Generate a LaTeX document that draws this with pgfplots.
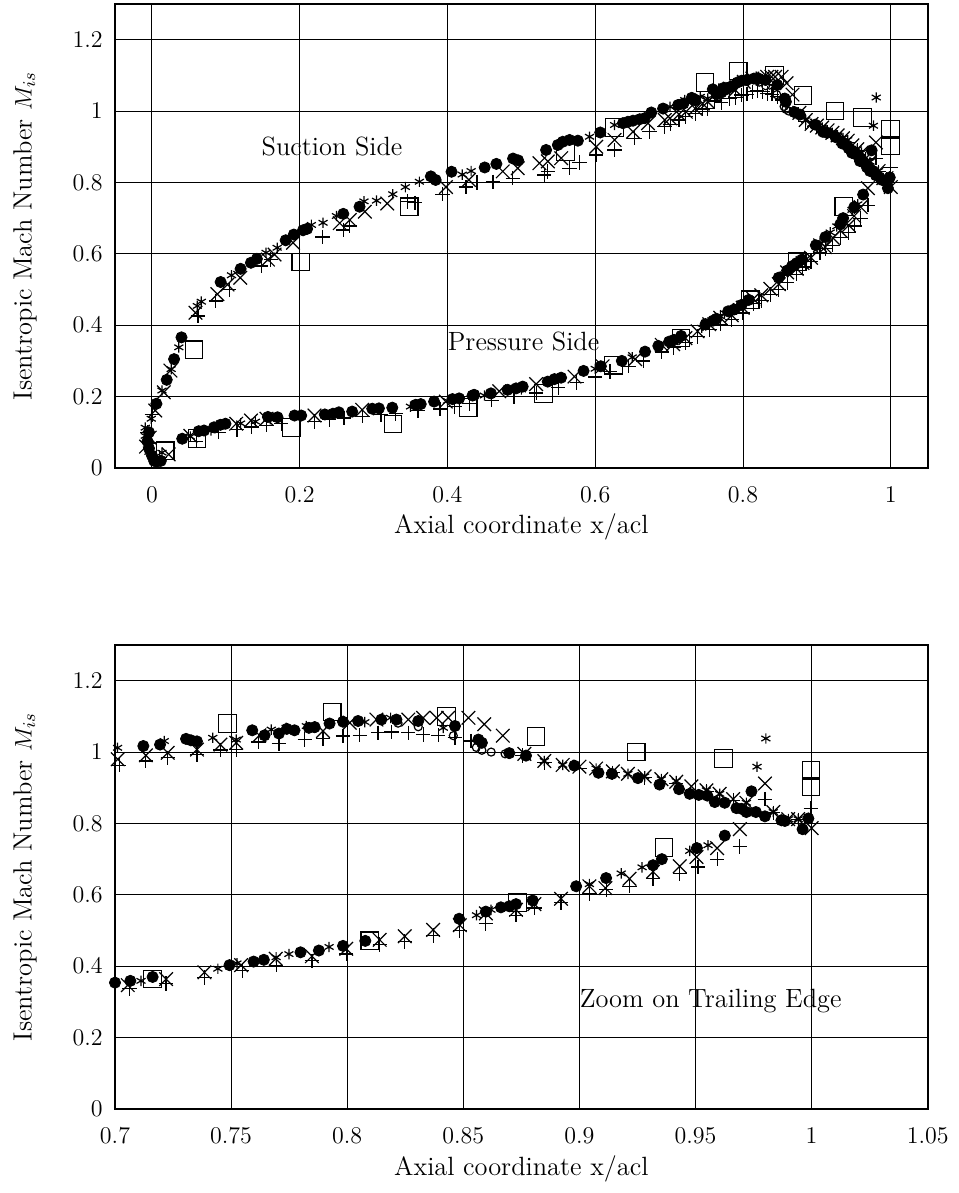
\documentclass[border=0pt,12pt]{standalone}
\usepackage{pgfplots}
\pgfplotsset{compat=1.18}
\usepackage{pgfplotstable}

% filled circles
\pgfplotstableread{
x y
-0.004 0.100
-0.006 0.075
-0.004 0.055
0.000 0.035
0.003 0.020
0.007 0.018
0.012 0.020
0.006 0.180
0.020 0.247
0.030 0.305
0.040 0.366
0.093 0.521
0.120 0.558
0.134 0.575
0.142 0.586
0.181 0.638
0.192 0.654
0.2045 0.666
0.210 0.670
0.259 0.712
0.281 0.732
0.3775 0.817
0.384 0.807
0.4055 0.830
0.4504 0.842
0.4662 0.852
0.4888 0.867
0.4956 0.862
0.5335 0.891
0.5494 0.905
0.5561 0.914
0.5652 0.919
0.5765 0.917
0.6068 0.940
0.6375 0.966
0.6443 0.970
0.6511 0.973
0.6601 0.977
0.6669 0.980
0.6759 0.996
0.6918 1.007
0.7122 1.017
0.7194 1.021
0.7306 1.037
0.7327 1.033
0.7353 1.030
0.7591 1.061
0.7644 1.047
0.7706 1.052
0.7740 1.065
0.7773 1.061
0.7835 1.068
0.7860 1.070
0.7924 1.080
0.7982 1.085
0.8047 1.087
0.8147 1.091
0.8212 1.091
0.8306 1.087
0.8464 1.073
0.8565 1.035
0.8580 1.026
0.8698 0.997
0.8770 0.990
0.8978 0.962
0.9082 0.942
0.9140 0.939
0.9252 0.927
0.9345 0.909
0.9429 0.896
0.9475 0.883
0.9514 0.880
0.9551 0.878
0.9583 0.860
0.9626 0.858
0.9676 0.843
0.9698 0.841
0.9719 0.832
0.9741 0.890
0.9760 0.832
0.9799 0.820
0.9870 0.809
0.9885 0.807
0.9986 0.814
0.9961 0.784
0.041 0.082
0.0633 0.103
0.0705 0.105
0.084 0.114
0.0927 0.121
0.0995 0.124
0.157 0.143
0.170 0.142
0.193 0.147
0.202 0.147
0.234 0.150
0.245 0.152
0.253 0.156
0.271 0.158
0.2982 0.166
0.3072 0.167
0.3253 0.169
0.357 0.177
0.3638 0.179
0.3819 0.186
0.4068 0.193
0.4158 0.195
0.4339 0.203
0.4362 0.205
0.4588 0.209
0.4814 0.219
0.4928 0.223
0.5018 0.228
0.5357 0.242
0.5448 0.249
0.5538 0.253
0.5842 0.272
0.6076 0.285
0.636 0.300
0.6674 0.326
0.6854 0.342
0.7000 0.354
0.7066 0.359
0.7162 0.370
0.7493 0.403
0.7597 0.413
0.7641 0.418
0.7799 0.439
0.7878 0.444
0.7982 0.457
0.8078 0.471
0.8482 0.533
0.8597 0.553
0.8662 0.565
0.8698 0.568
0.8727 0.574
0.8799 0.584
0.8986 0.624
0.9115 0.647
0.9317 0.683
0.9355 0.700
0.9506 0.731
0.9626 0.766
}\circdata

% crosses
\pgfplotstableread{
x y
-0.008 0.060
-0.003 0.085
0.0045 0.161
0.016 0.212
0.025 0.273
0.059 0.435
0.0886 0.487
0.1023 0.514
0.1195 0.533
0.157 0.584
0.166 0.598
0.191 0.631
0.2542 0.686
0.2678 0.695
0.2882 0.718
0.3184 0.741
0.398 0.787
0.429 0.807
0.4748 0.831
0.4951 0.840
0.5245 0.854
0.5358 0.859
0.5539 0.868
0.6014 0.900
0.6262 0.919
0.6511 0.942
0.6714 0.966
0.694 0.975
0.7012 0.980
0.7133 0.991
0.7227 0.998
0.7353 1.007
0.7454 1.021
0.7522 1.026
0.7622 1.047
0.7896 1.059
0.8011 1.082
0.8126 1.091
0.8263 1.091
0.8327 1.096
0.8385 1.096
0.8435 1.096
0.8522 1.096
0.8590 1.078
0.8670 1.046
0.8763 0.995
0.8849 0.975
0.8928 0.964
0.9000 0.959
0.9072 0.954
0.9144 0.946
0.9209 0.939
0.9281 0.932
0.9353 0.924
0.9417 0.917
0.9482 0.904
0.9547 0.893
0.9604 0.883
0.9662 0.868
0.9719 0.858
0.9799 0.912
0.9835 0.832
0.9899 0.812
0.9942 0.812
1.0000 0.787
0.0227 0.038
0.052 0.090
0.114 0.124
0.134 0.133
0.155 0.138
0.220 0.147
0.2846 0.163
0.3977 0.186
0.470 0.215
0.520 0.235
0.5719 0.256
0.610 0.285
0.654 0.305
0.690 0.345
0.7055 0.347
0.722 0.364
0.7385 0.383
0.7543 0.403
0.7692 0.421
0.7848 0.428
0.7996 0.449
0.814 0.474
0.8248 0.484
0.837 0.502
0.8485 0.515
0.8597 0.548
0.8727 0.558
0.8806 0.574
0.8921 0.589
0.9043 0.624
0.9112 0.619
0.9216 0.645
0.9317 0.665
0.9432 0.680
0.9504 0.706
0.9593 0.731
0.9691 0.784
}\crossdata

% plus
\pgfplotstableread{
x y
-0.006 0.100
-0.004 0.070
0.000 0.150
0.0623 0.426
0.0864 0.468
0.1045 0.500
0.148 0.566
0.161 0.584
0.2307 0.647
0.2588 0.667
0.2678 0.678
0.346 0.747
0.356 0.743
0.393 0.767
0.425 0.787
0.440 0.800
0.4617 0.802
0.4883 0.812
0.531 0.821
0.5358 0.831
0.5652 0.840
0.5788 0.856
0.6014 0.877
0.6262 0.891
0.6533 0.924
0.6737 0.942
0.694 0.956
0.7018 0.963
0.7133 0.975
0.7227 0.984
0.7353 0.993
0.7454 1.006
0.7522 1.007
0.7618 1.028
0.7706 1.023
0.7817 1.035
0.7896 1.037
0.7982 1.045
0.8054 1.047
0.8133 1.054
0.8191 1.056
0.8263 1.054
0.8327 1.049
0.8392 1.047
0.8464 1.040
0.8533 1.031
0.8755 0.990
0.8849 0.970
0.9000 0.955
0.9144 0.942
0.9281 0.928
0.9417 0.913
0.9547 0.890
0.9662 0.865
0.9799 0.868
0.9835 0.830
0.9942 0.810
0.9997 0.843
0.010 0.030
0.060 0.075
0.090 0.100
0.115 0.108
0.135 0.115
0.155 0.120
0.175 0.125
0.220 0.130
0.240 0.135
0.260 0.140
0.285 0.145
0.310 0.150
0.330 0.152
0.360 0.160
0.390 0.165
0.410 0.172
0.430 0.180
0.460 0.190
0.490 0.200
0.520 0.210
0.550 0.225
0.575 0.240
0.600 0.255
0.620 0.270
0.645 0.285
0.665 0.300
0.690 0.325
0.7062 0.337
0.722 0.352
0.7385 0.368
0.7548 0.388
0.7694 0.403
0.7848 0.415
0.7996 0.434
0.814 0.461
0.8248 0.469
0.837 0.486
0.8485 0.500
0.8597 0.520
0.8727 0.543
0.8806 0.563
0.8921 0.579
0.9043 0.604
0.9115 0.614
0.9216 0.624
0.9317 0.645
0.9432 0.660
0.9511 0.678
0.9593 0.700
0.9691 0.736
}\plusdata

% asterisks
\pgfplotstableread{
x y
-0.009 0.113
-0.009 0.090
-0.006 0.065
-0.004 0.045
-0.0009 0.138
0.0136 0.217
0.026 0.277
0.0364 0.338
0.0614 0.454
0.0668 0.466
0.1077 0.540
0.1545 0.603
0.1695 0.617
0.2158 0.681
0.2316 0.687
0.2497 0.706
0.287 0.747
0.304 0.749
0.326 0.767
0.343 0.787
0.362 0.802
0.420 0.822
0.432 0.832
0.5923 0.928
0.6262 0.961
0.7011 1.012
0.7212 1.031
0.7421 1.040
0.7522 1.035
0.7673 1.063
0.7737 1.068
0.7824 1.073
0.8076 1.084
0.8187 1.096
0.8414 1.068
0.8849 0.975
0.8928 0.964
0.9072 0.954
0.9209 0.939
0.9281 0.932
0.9353 0.924
0.9417 0.919
0.9547 0.893
0.9604 0.883
0.9719 0.858
0.9835 0.832
0.9900 0.812
0.9942 0.812
0.9803 1.038
0.9765 0.959
0.0136 0.043
0.052 0.088
0.080 0.105
0.120 0.125
0.140 0.130
0.160 0.137
0.200 0.145
0.300 0.162
0.350 0.172
0.400 0.188
0.450 0.203
0.500 0.220
0.550 0.250
0.600 0.278
0.650 0.310
0.7112 0.359
0.7443 0.393
0.7525 0.408
0.7694 0.425
0.7749 0.434
0.7922 0.454
0.8557 0.543
0.8619 0.558
0.9043 0.630
0.9180 0.660
0.9270 0.677
0.9475 0.723
0.9554 0.739
}\stardata

% squares
\pgfplotstableread{
x y
0.0568 0.331
0.2014 0.577
0.3483 0.732
0.5598 0.887
0.6262 0.954
0.7485 1.080
0.7935 1.112
0.8428 1.100
0.8813 1.044
0.9245 1.000
0.9620 0.982
0.9997 0.949
0.9997 0.904
0.018 0.048
0.061 0.083
0.1886 0.114
0.3262 0.123
0.428 0.169
0.5299 0.209
0.6247 0.288
0.7162 0.364
0.8097 0.471
0.8734 0.579
0.9364 0.733
}\squaredata

% open circles
\pgfplotstableread{
x y
0.786 1.066
0.8219 1.081
0.8306 1.071
0.8457 1.046
0.8556 1.013
0.8580 1.005
0.8620 1.000
0.8680 0.995
}\ocircdata

\pgfplotsset{
  panel/.style={
    scale only axis,
    width=406.35pt, height=232pt,
    ymin=0, ymax=1.3,
    ytick={0,0.2,0.4,0.6,0.8,1,1.2},
    grid=major,
    major grid style={black, line width=0.5pt},
    axis line style={black, line width=0.8pt},
    tick style={black, line width=0.5pt},
    tick align=inside,
    xticklabel style={yshift=-5.5pt},
    yticklabel style={xshift=-2pt},
    xlabel={Axial coordinate x/acl},
    ylabel={Isentropic Mach Number $M_{is}$},
    xlabel style={at={(axis description cs:0.5,0)}, anchor=base, yshift=-33pt},
    ylabel style={at={(axis description cs:-0.1107,0.5)}, anchor=center},
    font=\fontsize{13.2}{15.8}\selectfont,
  },
  mcirc/.style={only marks, mark=*, mark size=2.8pt, mark options={solid, fill=black, draw=black, line width=0.4pt}},
  mocirc/.style={only marks, mark=o, mark size=2pt, mark options={solid, draw=black, line width=0.6pt}},
  mplus/.style={only marks, mark=+, mark size=3.6pt, mark options={solid, draw=black, line width=0.6pt}},
  mcross/.style={only marks, mark=x, mark size=4.8pt, mark options={solid, draw=black, line width=0.6pt}},
  mstar/.style={only marks, mark=asterisk, mark size=2.6pt, mark options={solid, draw=black, line width=0.6pt}},
  msquare/.style={only marks, mark=square, mark size=4.4pt, mark options={solid, draw=black, line width=0.6pt}},
}

\begin{document}
\begin{tikzpicture}
\path[use as bounding box] (0,0) rectangle (479pt,596.5pt);

\begin{axis}[panel,
  at={(57.5pt,362.5pt)}, anchor=south west,
  xmin=-0.05, xmax=1.05,
  xtick={0,0.2,0.4,0.6,0.8,1},
]
\addplot[mcirc] table[x=x,y=y] {\circdata};
\addplot[msquare] table[x=x,y=y] {\squaredata};
\addplot[mocirc] table[x=x,y=y] {\ocircdata};
\addplot[mplus] table[x=x,y=y] {\plusdata};
\addplot[mcross] table[x=x,y=y] {\crossdata};
\addplot[mstar] table[x=x,y=y] {\stardata};
\node[anchor=base west, inner sep=0pt] at (axis cs:0.148,0.875) {Suction Side};
\node[anchor=base west, inner sep=0pt] at (axis cs:0.400,0.328) {Pressure Side};
\end{axis}

\begin{axis}[panel,
  at={(57.5pt,42pt)}, anchor=south west,
  xmin=0.7, xmax=1.05,
  xtick={0.7,0.75,0.8,0.85,0.9,0.95,1,1.05},
  restrict x to domain=0.698:1.06,
]
\addplot[mcirc] table[x=x,y=y] {\circdata};
\addplot[msquare] table[x=x,y=y] {\squaredata};
\addplot[mocirc] table[x=x,y=y] {\ocircdata};
\addplot[mplus] table[x=x,y=y] {\plusdata};
\addplot[mcross] table[x=x,y=y] {\crossdata};
\addplot[mstar] table[x=x,y=y] {\stardata};
\node[anchor=base west, inner sep=0pt] at (axis cs:0.900,0.284) {Zoom on Trailing Edge};
\end{axis}
\end{tikzpicture}
\end{document}
